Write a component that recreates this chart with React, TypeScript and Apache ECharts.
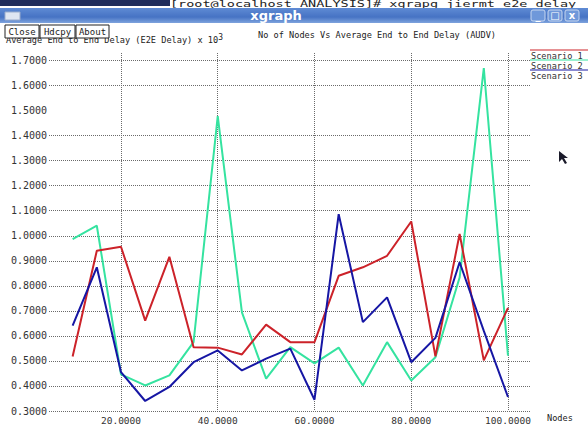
import React, { useEffect, useRef } from "react";
import * as echarts from "echarts";

const nodes = [10, 15, 20, 25, 30, 35, 40, 45, 50, 55, 60, 65, 70, 75, 80, 85, 90, 95, 100];
const scenario1 = [0.518, 0.94, 0.956, 0.661, 0.916, 0.555, 0.553, 0.526, 0.645, 0.575, 0.575, 0.84, 0.874, 0.92, 1.057, 0.518, 1.007, 0.502, 0.712];
const scenario2 = [0.987, 1.04, 0.446, 0.402, 0.442, 0.575, 1.478, 0.694, 0.429, 0.555, 0.49, 0.553, 0.402, 0.575, 0.422, 0.515, 0.833, 1.67, 0.521];
const scenario3 = [0.641, 0.874, 0.455, 0.34, 0.396, 0.495, 0.542, 0.462, 0.509, 0.549, 0.345, 1.086, 0.655, 0.754, 0.495, 0.592, 0.894, 0.62, 0.356];
const seriesNames = ["Scenario 1", "Scenario 2", "Scenario 3"];
const seriesColors = ["#cc2229", "#35e3a0", "#1616a4"];
const titleText = "No of Nodes Vs Average End to End Delay (AUDV)";
const yTitle = "Average End to End Delay (E2E Delay) x 10";
const xTitle = "Nodes";
const buttons = ["Close", "Hdcpy", "About"];
const terminalText = "[root@localhost ANALYSIS]# xgrapg jiermt e2e delay";

const MONO = "DejaVu Sans Mono";

export default function App() {
  const ref = useRef<HTMLDivElement>(null);
  useEffect(() => {
    if (!ref.current) return;
    const chart = echarts.init(ref.current, null, { renderer: "svg" });
    const all = [scenario1, scenario2, scenario3];
    const gridColor = "#6a6a6a";
    const yLineColors: string[] = [];
    for (let i = 0; i < 15; i++) yLineColors.push(i === 12 ? "rgba(0,0,0,0)" : gridColor);

    const btnX = [5, 40, 76];
    const btnW = [34, 35, 33];
    const graphics: any[] = [
      { type: "rect", shape: { x: 0, y: 0, width: 170, height: 6 }, style: { fill: "#1f2c5c" }, z: 10 },
      {
        type: "text", x: 170, y: 8.5, z: 10, scaleX: 1.5,
        style: { text: terminalText, font: `9px ${MONO}`, fill: "#222", textVerticalAlign: "bottom" },
      },
      {
        type: "rect", shape: { x: 0, y: 8, width: 588, height: 15 }, z: 11,
        style: {
          fill: new echarts.graphic.LinearGradient(0, 0, 0, 1, [
            { offset: 0, color: "#5f8bd4" },
            { offset: 0.6, color: "#4673c4" },
            { offset: 1, color: "#7ea3dd" },
          ]),
        },
      },
      { type: "rect", shape: { x: 5, y: 12, width: 15, height: 8 }, style: { fill: "#dfe6f2", stroke: "#9aaccc", lineWidth: 1 }, z: 12 },
      {
        type: "text", x: 276, y: 15.5, z: 12,
        style: { text: "xgraph", font: `bold 13px "DejaVu Sans"`, fill: "#ffffff", textAlign: "center", textVerticalAlign: "middle" },
      },
    ];
    [531, 548, 565].forEach((bx, i) => {
      graphics.push({ type: "rect", shape: { x: bx, y: 10, width: 14, height: 11, r: 2 }, style: { fill: "#6f98da", stroke: "#c7d7f0", lineWidth: 1 }, z: 12 });
      const sym = ["_", "□", "x"][i];
      graphics.push({ type: "text", x: bx + 7, y: 15.5, z: 13, style: { text: sym, font: `bold 10px "DejaVu Sans"`, fill: "#ffffff", textAlign: "center", textVerticalAlign: "middle" } });
    });
    graphics.push({
      type: "text", x: 6, y: 40, z: 5,
      style: {
        text: yTitle + "{sup|3}",
        font: `8.6px ${MONO}`, fill: "#222", textVerticalAlign: "middle",
        rich: { sup: { fontSize: 8, fontFamily: MONO, fill: "#222", verticalAlign: "top", padding: [0, 0, 6, 0] } },
      },
    });
    buttons.forEach((b, i) => {
      graphics.push({ type: "rect", shape: { x: btnX[i], y: 25, width: btnW[i], height: 13 }, style: { fill: "#ffffff", stroke: "#222", lineWidth: 1 }, z: 20 });
      graphics.push({ type: "text", x: btnX[i] + btnW[i] / 2, y: 31.5, z: 21, style: { text: b, font: `9px ${MONO}`, fill: "#222", textAlign: "center", textVerticalAlign: "middle" } });
    });
    graphics.push({
      type: "text", x: 258, y: 34.5, z: 5,
      style: { text: titleText, font: `8.6px ${MONO}`, fill: "#222", textVerticalAlign: "middle" },
    });
    seriesNames.forEach((n, i) => {
      graphics.push({ type: "line", shape: { x1: 530, y1: 50 + i * 10, x2: 588, y2: 50 + i * 10 }, style: { stroke: seriesColors[i], lineWidth: 1 }, z: 5 });
      graphics.push({ type: "text", x: 531, y: 55.5 + i * 10, z: 5, style: { text: n, font: `8.6px ${MONO}`, fill: "#333", textVerticalAlign: "middle" } });
    });
    graphics.push({ type: "text", x: 547, y: 418, z: 5, style: { text: xTitle, font: `8.6px ${MONO}`, fill: "#222", textVerticalAlign: "middle" } });
    graphics.push({
      type: "polygon", z: 30,
      shape: { points: [[559, 151], [559, 162], [562, 159], [565, 164], [567, 163], [564, 158], [568, 158]] },
      style: { fill: "#1a1a2a" },
    });

    chart.setOption({
      animation: false,
      backgroundColor: "#ffffff",
      grid: { left: 49, right: 58, top: 53, bottom: 19, containLabel: false },
      xAxis: {
        type: "value",
        min: 5.117,
        max: 104.55,
        splitNumber: 5,
        axisLine: { show: false },
        axisTick: { show: false },
        axisLabel: {
          showMinLabel: false, showMaxLabel: false,
          formatter: (v: number) => v.toFixed(4),
          fontFamily: MONO, fontSize: 9.5, color: "#333", margin: 4,
        },
        splitLine: { show: true, showMinLine: false, showMaxLine: false, lineStyle: { color: gridColor, type: "dotted", width: 1 } },
      },
      yAxis: {
        type: "value",
        min: 0.3,
        max: 1.73,
        interval: 0.1,
        axisLine: { show: false },
        axisTick: { show: false },
        axisLabel: {
          showMaxLabel: false,
          formatter: (v: number) => v.toFixed(4),
          fontFamily: MONO, fontSize: 10, color: "#333", margin: 2,
        },
        splitLine: { show: true, showMaxLine: false, lineStyle: { color: yLineColors, type: "dotted", width: 1 } },
      },
      series: all.map((vals, i) => ({
        name: seriesNames[i],
        type: "line",
        data: nodes.map((n, j) => [n, vals[j]]),
        symbol: "none",
        lineStyle: { color: seriesColors[i], width: 2 },
        itemStyle: { color: seriesColors[i] },
        z: 3 + (i === 1 ? 0 : i === 0 ? 1 : 2),
      })),
      graphic: graphics,
    });
    return () => chart.dispose();
  }, []);
  return <div ref={ref} style={{ position: "fixed", left: 0, top: 0, width: 588, height: 430 }} />;
}
